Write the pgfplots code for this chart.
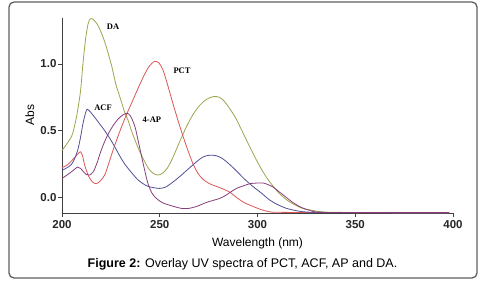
\documentclass[border=0pt]{standalone}
\usepackage{pgfplots}
\pgfplotsset{compat=1.18}
\usepackage{fontspec}
\setmainfont{Liberation Sans}
\newfontfamily\serifb{Liberation Serif}
\definecolor{cDA}{RGB}{158,164,78}
\definecolor{cPCT}{RGB}{218,85,85}
\definecolor{cACF}{RGB}{80,80,150}
\definecolor{cAP}{RGB}{135,62,125}
\definecolor{frame}{RGB}{95,95,95}
\begin{document}
\begin{tikzpicture}
\useasboundingbox (-62pt,-72pt) rectangle (419pt,213pt);
\draw[frame, line width=1.3pt, rounded corners=5pt] (-53pt,-65pt) rectangle (415pt,211pt);
\begin{axis}[
  at={(0,0)}, anchor=south west,
  scale only axis, width=391pt, height=195pt,
  xmin=200, xmax=400, ymin=-0.12, ymax=1.346,
  axis x line=bottom, axis y line=left,
  axis line style={-, draw=black!75, line width=0.8pt},
  xtick={200,250,300,350,400}, ytick={0,0.5,1},
  tick align=outside, major tick length=4pt,
  tick style={draw=black!75, line width=0.8pt},
  /pgf/number format/assume math mode=true,
  yticklabel style={/pgf/number format/.cd, fixed, fixed zerofill, precision=1, /tikz/.cd, xshift=2pt},
  xticklabel style={/pgf/number format/.cd, fixed, precision=0},
  tick label style={font=\fontsize{11.5}{13}\selectfont\bfseries, text=black!85},
  xlabel={Wavelength (nm)}, ylabel={Abs},
  xlabel style={font=\fontsize{12}{14}\selectfont, at={(axis description cs:0.5,0)}, anchor=center, yshift=-30pt},
  ylabel style={font=\fontsize{12}{14}\selectfont, at={(axis description cs:-0.082,0.503)}, anchor=center},
  clip=false,
  every axis plot/.append style={line width=0.8pt, smooth, tension=0.5},
]
% DA
\addplot[cDA] coordinates {
(200,0.35) (202.5,0.40) (205,0.46) (206.5,0.54) (208,0.65) (209.5,0.80) (210.7,1.00) (212,1.18) (213.3,1.30) (214.5,1.34) (216,1.335) (218,1.30) (220,1.24) (222,1.16) (224,1.06) (225.5,0.98) (227.5,0.85) (229,0.78) (230.5,0.71) (232,0.64) (233.7,0.58) (235.5,0.50) (237.3,0.43) (239.5,0.35) (241.5,0.29) (244,0.22) (246.5,0.18) (249,0.165) (251.5,0.18) (254,0.22) (256.8,0.30) (260,0.41) (263.7,0.53) (267,0.62) (270.5,0.69) (274,0.735) (277.5,0.755) (280.5,0.75) (283,0.72) (286,0.66) (289,0.59) (292,0.50) (294.3,0.43) (297,0.35) (299.4,0.28) (302,0.21) (304.5,0.15) (307,0.10) (309.7,0.05) (312,0.015) (314.8,-0.02) (318,-0.05) (323,-0.085) (328,-0.10) (332,-0.11) (340,-0.115) (370,-0.117) (398,-0.117)
};
% PCT
\addplot[cPCT] coordinates {
(200,0.22) (203,0.245) (206,0.29) (208.5,0.33) (209.5,0.34) (210.5,0.31) (211.6,0.24) (213.5,0.16) (215.5,0.115) (217.5,0.10) (219.5,0.12) (222,0.17) (224.5,0.28) (227,0.39) (230,0.51) (233,0.62) (236,0.72) (239,0.82) (241.5,0.90) (244,0.97) (246,1.005) (247.5,1.02) (249.5,1.01) (251.5,0.96) (253.5,0.87) (256.8,0.70) (260.3,0.53) (263.7,0.38) (267,0.25) (269.5,0.18) (272,0.135) (275.5,0.10) (279,0.08) (282.5,0.06) (286,0.035) (289,0.0) (293,-0.04) (297.6,-0.07) (302,-0.095) (306,-0.11) (312,-0.115) (350,-0.117) (398,-0.117)
};
% ACF
\addplot[cACF] coordinates {
(200,0.20) (202.5,0.22) (204.8,0.245) (206.5,0.29) (208,0.35) (209.5,0.45) (210.7,0.55) (212,0.63) (212.9,0.66) (214.5,0.64) (216.7,0.60) (219,0.555) (221.8,0.50) (224.5,0.44) (226.9,0.38) (229.5,0.31) (232,0.25) (235.5,0.185) (238.8,0.13) (241.5,0.10) (244,0.08) (247,0.07) (250,0.065) (253,0.075) (256.5,0.11) (260.3,0.155) (264.5,0.21) (268.8,0.265) (272,0.30) (275.5,0.315) (279,0.31) (282,0.29) (285,0.255) (289,0.20) (293,0.14) (297.6,0.08) (302,0.03) (306,-0.02) (310,-0.055) (314.8,-0.085) (319,-0.10) (323,-0.11) (330,-0.115) (360,-0.117) (398,-0.117)
};
% 4-AP
\addplot[cAP] coordinates {
(200,0.14) (202.5,0.165) (204.8,0.19) (206.5,0.21) (208,0.225) (209.5,0.215) (211,0.19) (212.4,0.17) (214,0.165) (216,0.19) (218,0.26) (220,0.35) (222.5,0.44) (225,0.51) (227.5,0.565) (230,0.605) (233,0.63) (235,0.61) (237.3,0.53) (239,0.42) (240.5,0.32) (242,0.22) (244,0.10) (246,0.03) (247.5,0.0) (250,-0.03) (252.6,-0.05) (257,-0.07) (261,-0.085) (265,-0.085) (269,-0.07) (274,-0.04) (280.7,-0.01) (284,0.015) (287,0.045) (290,0.07) (293,0.085) (296,0.10) (299.4,0.105) (303,0.105) (306,0.09) (308.5,0.07) (311,0.04) (314.5,0.0) (318,-0.04) (322,-0.075) (326.7,-0.10) (333,-0.115) (365,-0.117) (398,-0.117)
};
\node[font=\serifb\bfseries\fontsize{8.5}{10}\selectfont] at (axis cs:226.1,1.28) {DA};
\node[font=\serifb\bfseries\fontsize{8.5}{10}\selectfont] at (axis cs:261.4,0.95) {PCT};
\node[font=\serifb\bfseries\fontsize{8.5}{10}\selectfont] at (axis cs:221,0.67) {ACF};
\node[font=\serifb\bfseries\fontsize{8.5}{10}\selectfont] at (axis cs:246,0.58) {4-AP};
\end{axis}
\node[font=\fontsize{12.5}{14}\selectfont, anchor=base] at (180.5pt,-54pt) {\textbf{Figure 2:} Overlay UV spectra of PCT, ACF, AP and DA.};
\end{tikzpicture}
\end{document}
